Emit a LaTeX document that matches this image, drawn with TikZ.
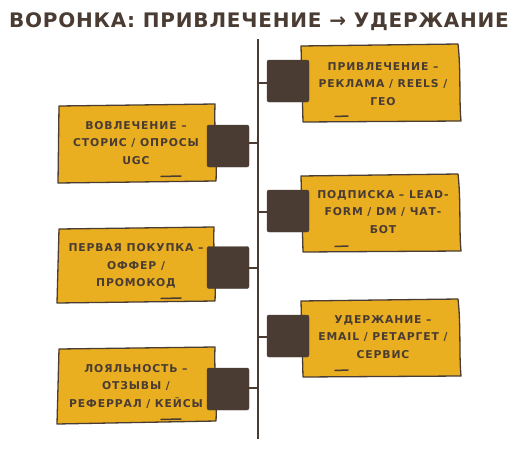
\documentclass[tikz,border=0pt]{standalone}
\usepackage{fontspec}
\setmainfont{DejaVu Sans}[LetterSpace=8]
\newfontfamily\titlefont{DejaVu Sans}[LetterSpace=4]
\definecolor{brn}{HTML}{4A3C32}
\definecolor{ylw}{HTML}{E9AF20}
\begin{document}
\begin{tikzpicture}[x=1pt,y=-1pt,
  yellowbox/.style={fill=ylw,draw=brn,line width=1.3pt,line join=round},
  darksq/.style={fill=brn,draw=brn,rounded corners=2pt,minimum width=42pt,minimum height=42pt,inner sep=0pt},
  boxtext/.style={text=brn,font=\fontsize{10.8}{17.5}\selectfont\bfseries,align=center,inner sep=0pt},
  spine/.style={draw=brn,line width=1.8pt},
  tick/.style={draw=brn,line width=1.6pt},
  strokemark/.style={draw=brn,line width=1.5pt,line cap=round}]
\useasboundingbox (0,0) rectangle (522,450);
% title
\node[text=brn,font=\titlefont\fontsize{20}{24}\selectfont\bfseries,inner sep=0pt] (title) at (259,22)
  {ВОРОНКА: ПРИВЛЕЧЕНИЕ → УДЕРЖАНИЕ};
% spine
\coordinate (top) at (258,39);
\coordinate (bot) at (258,439);
\draw[spine] (top) -- (bot);
% right boxes
\draw[yellowbox] (301,46) -- (458,44) .. controls (461,70) and (459,100) .. (461,121) -- (303,122) -- cycle;
\draw[yellowbox] (301,176) -- (458,174) .. controls (461,200) and (459,230) .. (461,251) -- (303,252) -- cycle;
\draw[yellowbox] (301,301) -- (458,299) .. controls (461,325) and (459,355) .. (461,376) -- (303,377) -- cycle;
% left boxes
\draw[yellowbox] (59,106) -- (215,104) .. controls (214,130) and (217,160) .. (216,181) -- (58,183) -- cycle;
\draw[yellowbox] (59,229) -- (214,227) .. controls (213,250) and (216,280) .. (215,301) -- (57,303) -- cycle;
\draw[yellowbox] (59,349) -- (215,347) .. controls (214,370) and (217,400) .. (216,421) -- (57,424) -- cycle;
% texts
\node[boxtext] (t1) at (383,84) {ПРИВЛЕЧЕНИЕ –\\РЕКЛАМА / REELS /\\ГЕО};
\node[boxtext] (t2) at (383,212) {ПОДПИСКА – LEAD-\\FORM / DM / ЧАТ-\\БОТ};
\node[boxtext] (t3) at (383,337) {УДЕРЖАНИЕ –\\EMAIL / РЕТАРГЕТ /\\СЕРВИС};
\node[boxtext] (t4) at (136,143) {ВОВЛЕЧЕНИЕ –\\СТОРИС / ОПРОСЫ\\UGC};
\node[boxtext] (t5) at (136,266) {ПЕРВАЯ ПОКУПКА –\\ОФФЕР /\\ПРОМОКОД};
\node[boxtext] (t6) at (136,386) {ЛОЯЛЬНОСТЬ –\\ОТЗЫВЫ /\\РЕФЕРРАЛ / КЕЙСЫ};
% small strokes
\draw[strokemark] (335,116.5) -- (348,116);
\draw[strokemark] (335,246.5) -- (348,246);
\draw[strokemark] (335,370.5) -- (348,370);
\draw[strokemark] (161,176.5) -- (181,176);
\draw[strokemark] (161,298.5) -- (181,298);
\draw[strokemark] (161,419.5) -- (181,419);
% dark squares
\node[darksq] (s1) at (288,81) {};
\node[darksq] (s2) at (288,211) {};
\node[darksq] (s3) at (288,336) {};
\node[darksq] (s4) at (228,146) {};
\node[darksq] (s5) at (228,267.5) {};
\node[darksq] (s6) at (228,389) {};
% ticks
\coordinate (k1) at (258,83);
\coordinate (k2) at (258,212);
\coordinate (k3) at (258,337);
\coordinate (k4) at (258,143);
\coordinate (k5) at (258,268);
\coordinate (k6) at (258,388);
\draw[tick] (k1) -- (k1 -| s1.west);
\draw[tick] (k2) -- (k2 -| s2.west);
\draw[tick] (k3) -- (k3 -| s3.west);
\draw[tick] (k4) -- (k4 -| s4.east);
\draw[tick] (k5) -- (k5 -| s5.east);
\draw[tick] (k6) -- (k6 -| s6.east);
\end{tikzpicture}
\end{document}
